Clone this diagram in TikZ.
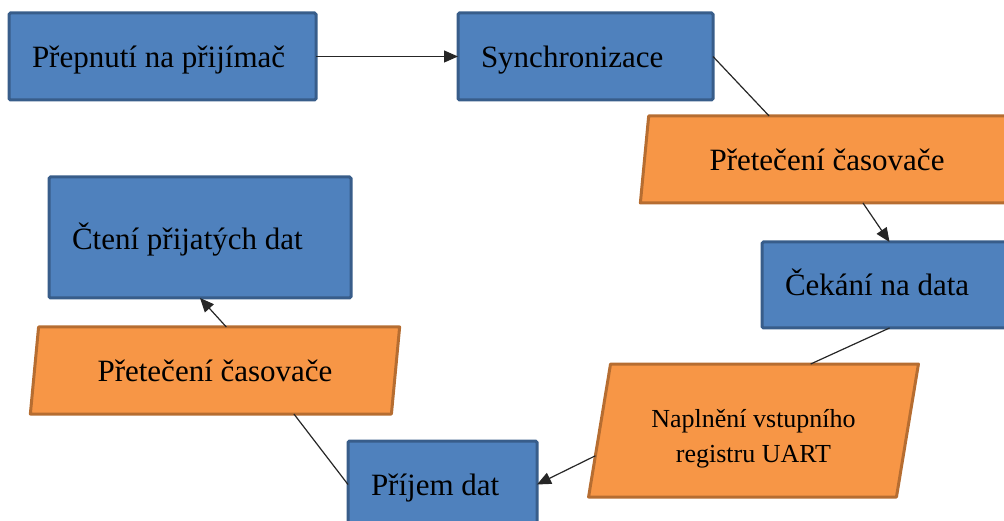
\documentclass[tikz,border=0pt]{standalone}
\usepackage{fontspec}
\setmainfont{Liberation Serif}
\usetikzlibrary{shapes.geometric,arrows.meta,calc}

\definecolor{boxfill}{RGB}{79,129,189}
\definecolor{boxline}{RGB}{56,93,138}
\definecolor{evfill}{RGB}{247,150,70}
\definecolor{evline}{RGB}{182,109,49}

\tikzset{
  stepbox/.style={rectangle, draw=boxline, fill=boxfill, line width=3pt,
    rounded corners=1.5pt, outer sep=0pt, inner xsep=23pt, inner ysep=0pt,
    align=flush left, text height=22pt, text depth=0pt,
    font=\fontsize{31}{37}\selectfont},
  event/.style={trapezium, trapezium left angle=76, trapezium right angle=104,
    trapezium stretches=true, draw=evline, fill=evfill, line width=3pt,
    line join=round, outer sep=0pt, inner sep=0pt, align=center,
    font=\fontsize{31}{37}\selectfont},
  flow/.style={draw=black!85, line width=1.2pt},
  flowarrow/.style={flow, -{Triangle[length=14pt,width=12pt]}}
}

\begin{document}
\begin{tikzpicture}[x=1pt,y=-1pt]
  \useasboundingbox (0,0) rectangle (1004,521);
  \clip (0,0) rectangle (1004,521);

  % process steps
  \node[stepbox, minimum width=307pt, minimum height=87pt, text width=261pt]
    (prepnuti) at (162.5,56.5) {Přepnutí na přijímač};
  \node[stepbox, minimum width=255pt, minimum height=87pt, text width=209pt]
    (sync) at (585.5,56.5) {Synchronizace};
  \node[stepbox, minimum width=255pt, minimum height=86pt, text width=209pt]
    (cekani) at (889.5,285) {Čekání na data};
  \node[stepbox, minimum width=189pt, minimum height=87pt, text width=143pt]
    (prijem) at (442.5,484.5) {Příjem dat};
  \node[stepbox, minimum width=302pt, minimum height=121pt, text width=256pt,
    text height=25pt]
    (cteni) at (200,237.5) {Čtení přijatých dat};

  % events
  \node[event, minimum width=374pt, minimum height=87pt, text height=22pt,
    text depth=0pt] (pret1) at (827,159.5) {Přetečení časovače};
  \node[event, minimum width=331pt, minimum height=133pt, text height=63pt,
    text depth=0pt, font=\fontsize{26}{35}\selectfont] (naplneni) at (753.5,430.5)
    {Naplnění vstupního\\registru UART};
  \node[event, minimum width=370pt, minimum height=87pt, text height=22pt,
    text depth=0pt] (pret2) at (215,370.5) {Přetečení časovače};

  % connectors
  \draw[flowarrow] (prepnuti.east) -- (sync.west);
  \draw[flow] (sync.east) -- ($(pret1.top left corner)!0.33!(pret1.top right corner)$);
  \draw[flowarrow] ($(pret1.bottom left corner)!0.61!(pret1.bottom right corner)$) -- (cekani.north);
  \draw[flow] (cekani.south) -- ($(naplneni.top left corner)!0.65!(naplneni.top right corner)$);
  \draw[flowarrow] ($(naplneni.bottom left corner)!0.31!(naplneni.top left corner)$) -- (prijem.east);
  \draw[flow] (prijem.west) -- ($(pret2.bottom left corner)!0.73!(pret2.bottom right corner)$);
  \draw[flowarrow] ($(pret2.top left corner)!0.52!(pret2.top right corner)$) -- (cteni.south);
\end{tikzpicture}
\end{document}
